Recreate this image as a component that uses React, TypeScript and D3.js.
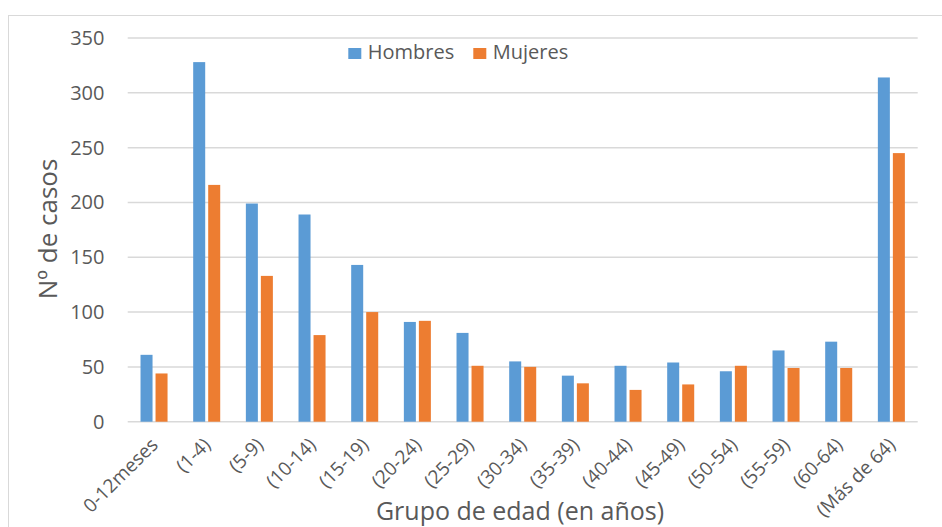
import React from "react";
import * as d3 from "d3";

const categories = [
  "0-12meses", "(1-4)", "(5-9)", "(10-14)", "(15-19)", "(20-24)", "(25-29)", "(30-34)",
  "(35-39)", "(40-44)", "(45-49)", "(50-54)", "(55-59)", "(60-64)", "(Más de 64)",
];
const hombres = [61, 328, 199, 189, 143, 91, 81, 55, 42, 51, 54, 46, 65, 73, 314];
const mujeres = [44, 216, 133, 79, 100, 92, 51, 50, 35, 29, 34, 51, 49, 49, 245];
const seriesNames = ["Hombres", "Mujeres"];
const seriesColors = ["#5B9BD5", "#ED7D31"];
const yTicks = [0, 50, 100, 150, 200, 250, 300, 350];

const W = 942;
const H = 527;
const FONT = "'Open Sans', 'DejaVu Sans', sans-serif";
const TEXT = "#595959";

export default function App() {
  const x0 = d3
    .scaleBand<string>()
    .domain(categories)
    .range([127.7, 917.7])
    .paddingInner(0.487)
    .paddingOuter(0.2435);
  const x1 = d3
    .scaleBand<string>()
    .domain(seriesNames)
    .range([0, x0.bandwidth()])
    .paddingInner(0.2);
  const y = d3.scaleLinear().domain([0, 350]).range([421.7, 38]);
  const data = [hombres, mujeres];

  return (
    <svg
      width={W}
      height={H}
      style={{ position: "absolute", left: 0, top: 0, background: "#fff" }}
      fontFamily={FONT}
    >
      <rect x={0} y={0} width={W} height={H} fill="#fff" />
      <rect x={8.5} y={15.5} width={W} height={H} fill="none" stroke="#d9d9d9" strokeWidth={1} />
      {yTicks.map((t) => (
        <g key={t}>
          <line x1={127.7} x2={917.7} y1={y(t)} y2={y(t)} stroke="#d9d9d9" strokeWidth={1.5} />
          <text
            x={104.5}
            y={y(t)}
            dy="0.35em"
            textAnchor="end"
            fontSize={20}
            fill={TEXT}
          >
            {t}
          </text>
        </g>
      ))}
      {categories.map((c, i) => (
        <g key={c} transform={`translate(${x0(c)},0)`}>
          {seriesNames.map((s, j) => (
            <rect
              key={s}
              x={x1(s)}
              y={y(data[j][i])}
              width={x1.bandwidth()}
              height={y(0) - y(data[j][i])}
              fill={seriesColors[j]}
            />
          ))}
        </g>
      ))}
      {categories.map((c) => {
        const cx = (x0(c) as number) + x0.bandwidth() / 2;
        return (
          <text
            key={c}
            transform={`translate(${cx + 5},${446}) rotate(-45)`}
            textAnchor="end"
            fontSize={19}
            fill={TEXT}
          >
            {c}
          </text>
        );
      })}
      <text
        transform={`translate(56.5,229) rotate(-90)`}
        textAnchor="middle"
        fontSize={26}
        fill={TEXT}
      >
        Nº de casos
      </text>
      <text x={520} y={520} textAnchor="middle" fontSize={25} fill={TEXT}>
        Grupo de edad (en años)
      </text>
      {seriesNames.map((s, j) => {
        const lx = [348.3, 473.3][j];
        return (
          <g key={s}>
            <rect x={lx} y={48} width={13} height={11} fill={seriesColors[j]} />
            <text x={lx + 19.5} y={59} fontSize={20} fill={TEXT}>
              {s}
            </text>
          </g>
        );
      })}
    </svg>
  );
}
